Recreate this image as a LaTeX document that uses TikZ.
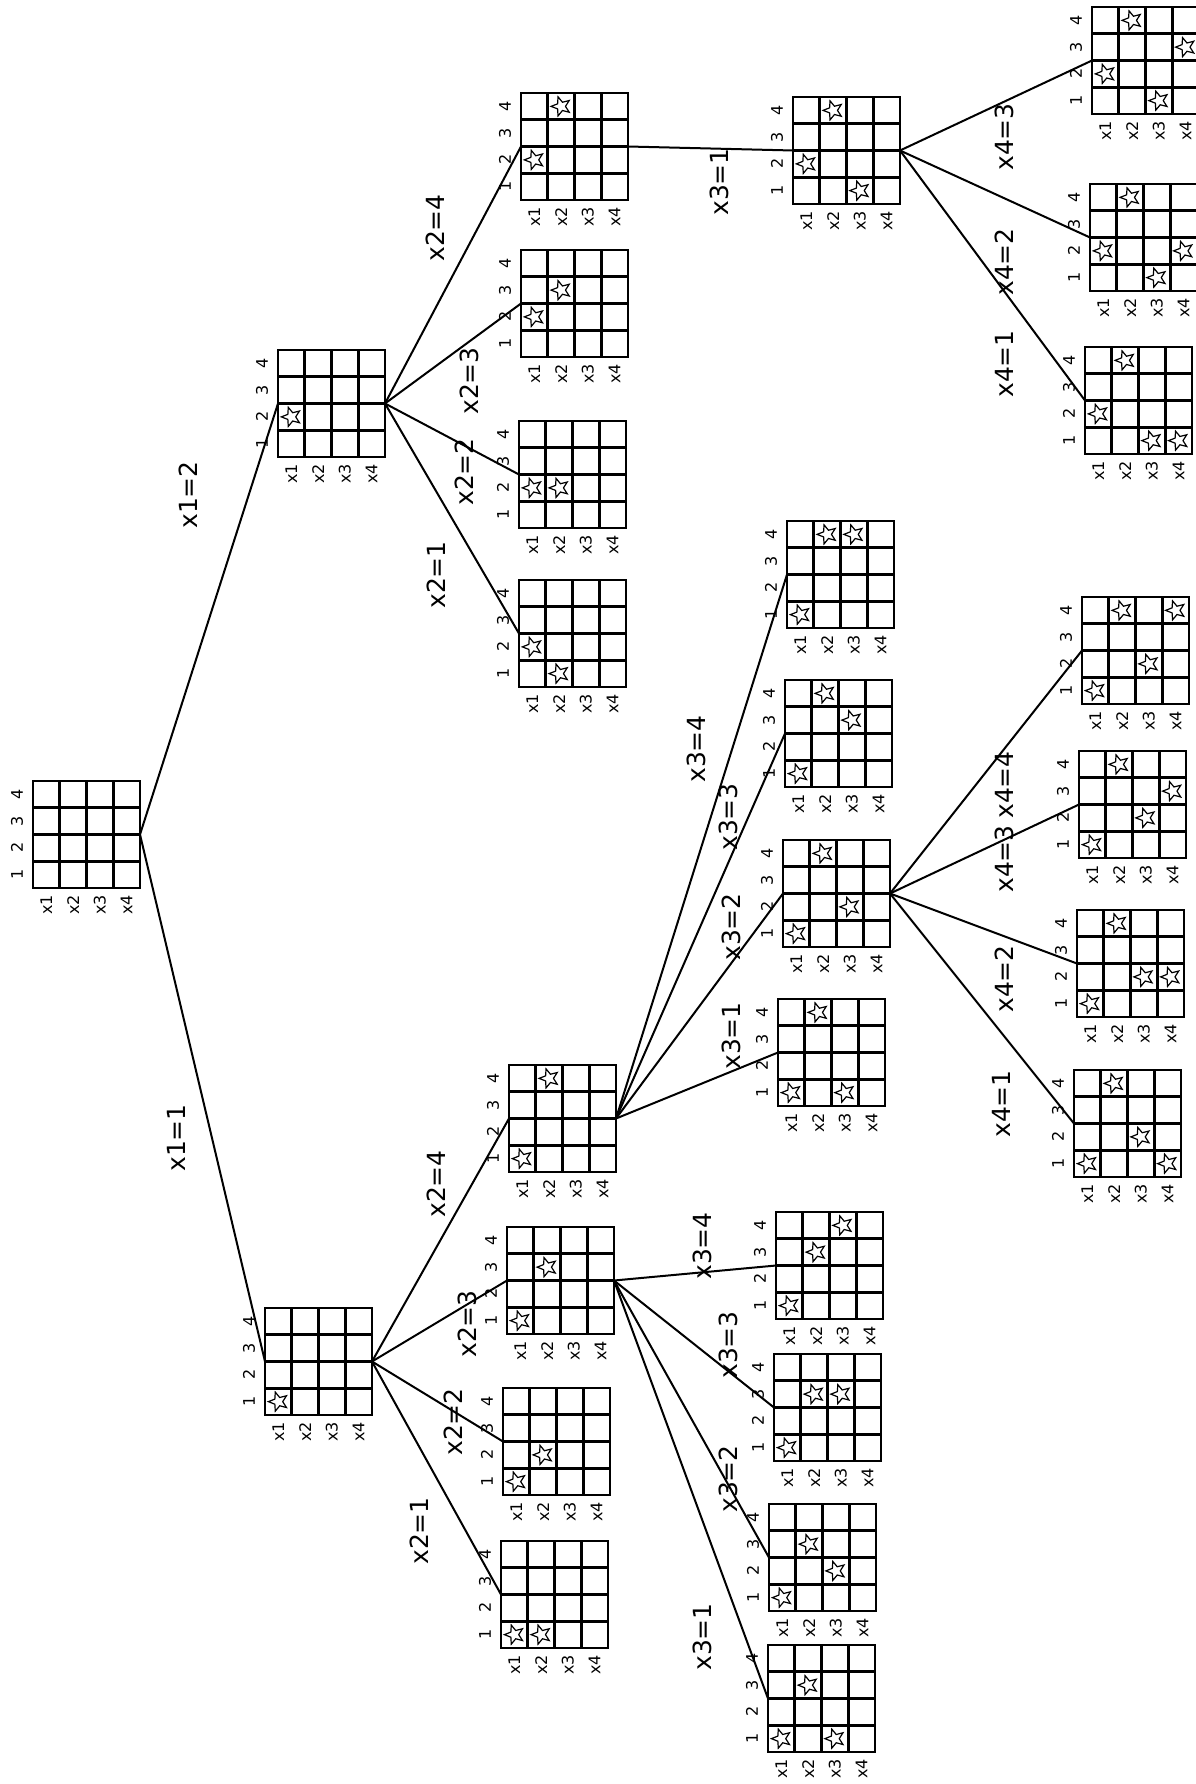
\documentclass[tikz,border=0pt]{standalone}
\usepackage{fontspec}
\setmainfont{DejaVu Sans}
\usetikzlibrary{shapes.geometric}
\tikzset{
  gridbox/.style={draw=none,minimum size=107pt,inner sep=0pt,outer sep=0pt},
  gridline/.style={line width=2.9pt,line cap=rect},
  numlab/.style={rotate=90,font=\fontsize{16}{16}\selectfont,inner sep=0pt},
  xlab/.style={rotate=90,font=\fontsize{16}{16}\selectfont,inner sep=0pt},
  edgelab/.style={rotate=90,font=\fontsize{25}{25}\selectfont,inner sep=0pt},
  conn/.style={line width=2pt},
  qstar/.style={star,star points=5,star point ratio=2.3,minimum size=20pt,inner sep=0pt,draw,line width=1.2pt,shape border rotate=90}
}
\newcommand\qmark[3]{% name, col, row with left/top in \qx \qy
  \ifnum#3>0
    \node[qstar] (#1s#2) at ({\qx+(#2-0.5)*26.75},{\qy+107-(#3-0.5)*26.75}) {};
  \fi}
\newcommand\qgrid[7]{%
  \def\qx{#2}\def\qy{#3}%
  \node[gridbox] (#1) at ({#2+53.5},{#3+53.5}) {};
  \foreach \i in {1,2,3} {
    \draw[gridline] ({#2+\i*26.75},#3) -- ({#2+\i*26.75},{#3+107});
    \draw[gridline] (#2,{#3+\i*26.75}) -- ({#2+107},{#3+\i*26.75});
  }
  \draw[gridline,line join=miter] (#2,#3) rectangle ({#2+107},{#3+107});
  \foreach \k in {1,2,3,4} {
    \node[numlab] (#1n\k) at ({#2-16},{#3+107-(\k-0.5)*26.75}) {\k};
    \node[xlab] (#1x\k) at ({#2+(\k-0.5)*26.75},{#3+107+17}) {x\k};
  }
  \qmark{#1}{1}{#4}\qmark{#1}{2}{#5}\qmark{#1}{3}{#6}\qmark{#1}{4}{#7}%
}
\begin{document}
\begin{tikzpicture}[x=1pt,y=-1pt]
\useasboundingbox[fill=white] (0,0) rectangle (1195,1784);
% root
\qgrid{root}{33}{781}{0}{0}{0}{0}
% level 1
\qgrid{a}{265}{1308}{1}{0}{0}{0}
\qgrid{b}{278}{350}{2}{0}{0}{0}
% level 2
\qgrid{a1}{501}{1541}{1}{1}{0}{0}
\qgrid{a2}{503}{1388}{1}{2}{0}{0}
\qgrid{a3}{507}{1227}{1}{3}{0}{0}
\qgrid{a4}{509}{1065}{1}{4}{0}{0}
\qgrid{b1}{519}{580}{2}{1}{0}{0}
\qgrid{b2}{519}{421}{2}{2}{0}{0}
\qgrid{b3}{521}{250}{2}{3}{0}{0}
\qgrid{b4}{521}{93}{2}{4}{0}{0}
% level 3
\qgrid{c1}{768}{1645}{1}{3}{1}{0}
\qgrid{c2}{769}{1504}{1}{3}{2}{0}
\qgrid{c3}{774}{1354}{1}{3}{3}{0}
\qgrid{c4}{776}{1212}{1}{3}{4}{0}
\qgrid{d1}{778}{999}{1}{4}{1}{0}
\qgrid{d2}{783}{840}{1}{4}{2}{0}
\qgrid{d3}{785}{680}{1}{4}{3}{0}
\qgrid{d4}{787}{521}{1}{4}{4}{0}
\qgrid{e1}{793}{97}{2}{4}{1}{0}
% level 4
\qgrid{f1}{1074}{1070}{1}{4}{2}{1}
\qgrid{f2}{1077}{910}{1}{4}{2}{2}
\qgrid{f3}{1079}{751}{1}{4}{2}{3}
\qgrid{f4}{1082}{597}{1}{4}{2}{4}
\qgrid{g1}{1085}{347}{2}{4}{1}{1}
\qgrid{g2}{1090}{184}{2}{4}{1}{2}
\qgrid{g3}{1092}{7}{2}{4}{1}{3}
% connectors
\foreach \p/\c in {root/a,root/b,a/a1,a/a2,a/a3,a/a4,b/b1,b/b2,b/b3,b/b4,
  a3/c1,a3/c2,a3/c3,a3/c4,a4/d1,a4/d2,a4/d3,a4/d4,b4/e1,
  d2/f1,d2/f2,d2/f3,d2/f4,e1/g1,e1/g2,e1/g3}
  \draw[conn] (\p.east) -- (\c.west);
% edge labels
\node[edgelab] (l1) at (176,1138) {x1=1};
\node[edgelab] (l2) at (188,495) {x1=2};
\node[edgelab] (la1) at (419,1531) {x2=1};
\node[edgelab] (la2) at (453,1422) {x2=2};
\node[edgelab] (la3) at (467,1324) {x2=3};
\node[edgelab] (la4) at (436,1184) {x2=4};
\node[edgelab] (lb1) at (436,575) {x2=1};
\node[edgelab] (lb2) at (464,472) {x2=2};
\node[edgelab] (lb3) at (469,381) {x2=3};
\node[edgelab] (lb4) at (435,228) {x2=4};
\node[edgelab] (lc1) at (702,1637) {x3=1};
\node[edgelab] (lc2) at (728,1479) {x3=2};
\node[edgelab] (lc3) at (728,1345) {x3=3};
\node[edgelab] (lc4) at (702,1246) {x3=4};
\node[edgelab] (ld1) at (731,1036) {x3=1};
\node[edgelab] (ld2) at (731,927) {x3=2};
\node[edgelab] (ld3) at (728,817) {x3=3};
\node[edgelab] (ld4) at (696,749) {x3=4};
\node[edgelab] (le1) at (719,182) {x3=1};
\node[edgelab] (lf1) at (1001,1104) {x4=1};
\node[edgelab] (lf2) at (1004,979) {x4=2};
\node[edgelab] (lf3) at (1004,859) {x4=3};
\node[edgelab] (lf4) at (1004,785) {x4=4};
\node[edgelab] (lg1) at (1004,364) {x4=1};
\node[edgelab] (lg2) at (1004,262) {x4=2};
\node[edgelab] (lg3) at (1004,137) {x4=3};
\end{tikzpicture}
\end{document}
